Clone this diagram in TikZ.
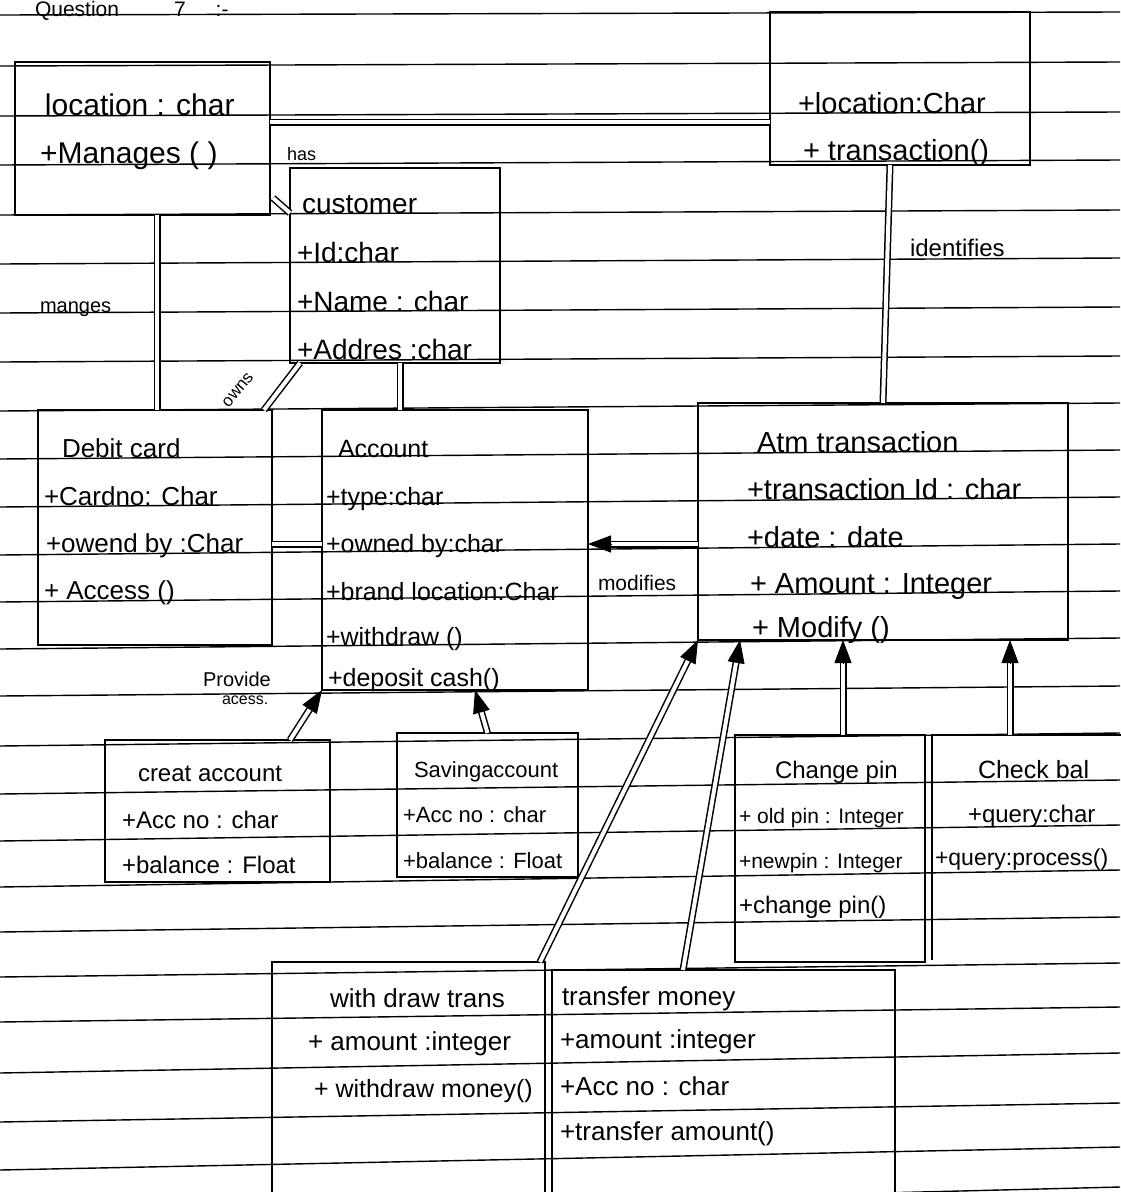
\documentclass[tikz,border=0pt]{standalone}
\usepackage{fontspec}
\setmainfont{Liberation Sans}
\usetikzlibrary{calc,arrows.meta}
\begin{document}
\begin{tikzpicture}[x=1pt,y=-1pt,
  rule/.style={line width=1.4pt},
  cls/.style={draw, line width=2.3pt, inner sep=0pt, outer sep=0pt},
  open/.style={inner sep=0pt, outer sep=0pt},
  dbl/.style={double, double distance=4pt, line width=1.5pt},
  tip/.style={-{Triangle[length=23pt,width=17pt]}, line width=0.8pt},
  tx/.style={anchor=base west, inner sep=0pt, outer sep=0pt},
  fs/.style={font=\fontsize{#1}{#1}\selectfont}]
\useasboundingbox[fill=white] (0,0) rectangle (1120,1192);
% ruled paper
\foreach \l/\r in {15/12,66/62,116/112,165/160,215/210,264/258,313/307,362/356,411/403,459/450,507/497,555/544,602/591,649/638,696/686,746/733,794/780,841/825,887/870,932/917,977/963,1022/1007,1073/1053,1122/1103,1170/1147,1215/1187}
  \draw[rule] (0,\l) -- (1120,\r);

% header
\node[tx,fs=21] (q) at (35,16) {Question\hspace{55pt}7\hspace{30pt}:-};

% class boxes
\node[cls, minimum width=255pt, minimum height=153pt] (loc) at (142.5,138.5) {};
\node[cls, minimum width=210pt, minimum height=195pt] (cust) at (395,265.5) {};
\node[cls, minimum width=260pt, minimum height=153pt] (atmloc) at (900,88.5) {};
\node[cls, minimum width=234pt, minimum height=235pt] (debit) at (155,527.5) {};
\node[cls, minimum width=266pt, minimum height=280pt] (acc) at (455,550) {};
\node[cls, minimum width=370pt, minimum height=237pt] (atm) at (883,521.5) {};
\node[cls, minimum width=225pt, minimum height=142pt] (creat) at (217.5,811) {};
\node[cls, minimum width=181pt, minimum height=144pt] (sav) at (487.5,805) {};
\node[cls, minimum width=190pt, minimum height=227pt] (pin) at (830,848.5) {};
\node[open, minimum width=193pt, minimum height=225pt] (chk) at (1028.5,847.5) {};
\draw[line width=2.3pt] (chk.north east) -- (chk.north west) -- (chk.south west);
\node[cls, minimum width=273pt, minimum height=238pt] (wd) at (408.5,1081) {};
\node[cls, minimum width=343pt, minimum height=225pt] (tm) at (723.5,1082.5) {};

% helper coordinates
\coordinate (h122) at (0,122);
\coordinate (h544) at (0,544);
\coordinate (v157) at (157,0);
\coordinate (v400) at (400,0);
\coordinate (v843) at (843,0);
\coordinate (v1010) at (1010,0);

% plain associations
\draw[dbl] (loc.east |- h122) -- (atmloc.west |- h122);
\draw[dbl] ([xshift=3pt,yshift=17pt]loc.south east) -- ([yshift=-45pt]cust.north west);
\draw[dbl] (loc.south -| v157) -- (debit.north -| v157);
\draw[dbl] (cust.south -| v400) -- (acc.north -| v400);
\draw[dbl] ([xshift=10pt]cust.south west) -- ([xshift=-8pt]debit.north east);
\draw[dbl] (debit.east |- h544) -- (acc.west |- h544);
\draw[dbl] ([xshift=-10pt]atmloc.south) -- (atm.north);

% directed associations
\coordinate (a1) at (atm.west |- h544);      \coordinate (b1) at (acc.east |- h544);
\coordinate (a2) at ([xshift=-40pt]creat.north east); \coordinate (b2) at (acc.south west);
\coordinate (a3) at (sav.north);              \coordinate (b3) at ([xshift=20pt]acc.south);
\coordinate (a4) at ([xshift=-5pt]wd.north east); \coordinate (b4) at (atm.south west);
\coordinate (a5) at ([xshift=131pt]tm.north west); \coordinate (b5) at ([xshift=42pt]atm.south west);
\coordinate (a6) at (pin.north -| v843);      \coordinate (b6) at (atm.south -| v843);
\coordinate (a7) at (chk.north -| v1010);     \coordinate (b7) at (atm.south -| v1010);
\foreach \i in {1,...,7}{
  \draw[dbl, shorten >=15pt] (a\i) -- (b\i);
  \draw[tip] ($(b\i)!23pt!(a\i)$) -- (b\i);
}

% labels
\node[tx,fs=18] (lhas) at (287,160) {has};
\node[tx,fs=20] (lman) at (40,312) {manges};
\node[tx,fs=24] (lid) at (910,256) {identifies};
\node[fs=17, inner sep=0pt, rotate=50] (lown) at (238,390) {owns};
\node[tx,fs=21] (lmod) at (598,590) {modifies};
\node[tx,fs=20] (lpr1) at (203,686) {Provide};
\node[tx,fs=16] (lpr2) at (222,704) {acess.};

% class texts
\node[tx,fs=30] (t1) at (45,115) {location : char};
\node[tx,fs=30] (t2) at (40,163) {+Manages ( )};

\node[tx,fs=28] (t3) at (302,213) {customer};
\node[tx,fs=28] (t4) at (297,262) {+Id:char};
\node[tx,fs=28] (t5) at (297,311) {+Name : char};
\node[tx,fs=28] (t6) at (297,359) {+Addres :char};

\node[tx,fs=29] (t7) at (798,113) {+location:Char};
\node[tx,fs=29] (t8) at (803,160) {+ transaction()};

\node[tx,fs=26] (t9) at (62,457) {Debit card};
\node[tx,fs=26] (t10) at (44,505) {+Cardno: Char};
\node[tx,fs=26] (t11) at (46,552) {+owend by :Char};
\node[tx,fs=26] (t12) at (44,599) {+ Access ()};

\node[tx,fs=25] (t13) at (338,457) {Account};
\node[tx,fs=25] (t14) at (326,505) {+type:char};
\node[tx,fs=25] (t15) at (326,552) {+owned by:char};
\node[tx,fs=25] (t16) at (326,600) {+brand location:Char};
\node[tx,fs=25] (t17) at (326,645) {+withdraw ()};
\node[tx,fs=25] (t18) at (328,686) {+deposit cash()};

\node[tx,fs=29] (t19) at (757,452) {Atm transaction};
\node[tx,fs=29] (t20) at (747,499) {+transaction Id : char};
\node[tx,fs=29] (t21) at (747,547) {+date : date};
\node[tx,fs=29] (t22) at (750,593) {+ Amount : Integer};
\node[tx,fs=29] (t23) at (752,637) {+ Modify ()};

\node[tx,fs=24] (t24) at (138,781) {creat account};
\node[tx,fs=24] (t25) at (122,828) {+Acc no : char};
\node[tx,fs=24] (t26) at (122,873) {+balance : Float};

\node[tx,fs=22] (t27) at (414,777) {Savingaccount};
\node[tx,fs=22] (t28) at (403,822) {+Acc no : char};
\node[tx,fs=22] (t29) at (403,868) {+balance : Float};

\node[tx,fs=24] (t30) at (775,778) {Change pin};
\node[tx,fs=21] (t31) at (739,823) {+ old pin : Integer};
\node[tx,fs=21] (t32) at (739,868) {+newpin : Integer};
\node[tx,fs=24] (t33) at (739,913) {+change pin()};

\node[tx,fs=25] (t34) at (978,778) {Check bal};
\node[tx,fs=24] (t35) at (968,822) {+query:char};
\node[tx,fs=23] (t36) at (935,865) {+query:process()};

\node[tx,fs=26] (t37) at (330,1007) {with draw trans};
\node[tx,fs=26] (t38) at (308,1050) {+ amount :integer};
\node[tx,fs=25] (t39) at (314,1097) {+ withdraw money()};

\node[tx,fs=26] (t40) at (562,1005) {transfer money};
\node[tx,fs=26] (t41) at (560,1048) {+amount :integer};
\node[tx,fs=26] (t42) at (560,1095) {+Acc no : char};
\node[tx,fs=26] (t43) at (560,1140) {+transfer amount()};
\end{tikzpicture}
\end{document}
